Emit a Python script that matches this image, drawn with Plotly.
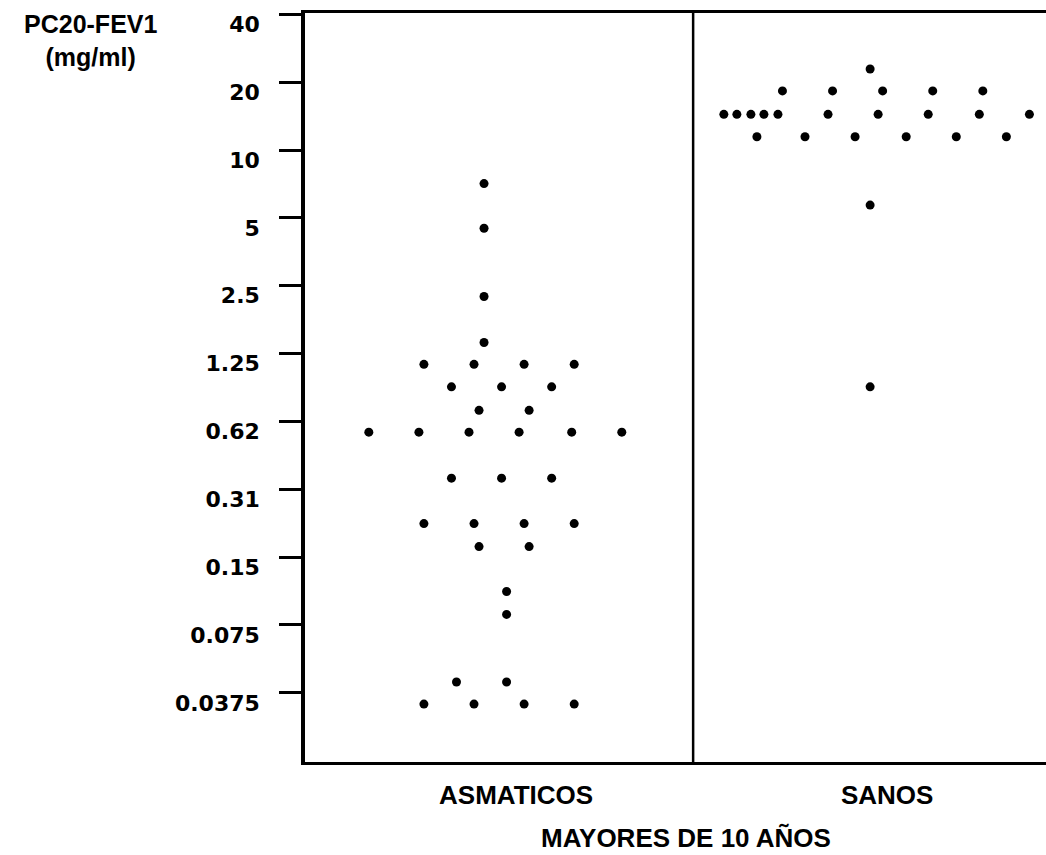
import math
import plotly.graph_objects as go

# ---------------- data ----------------
categories = ["ASMATICOS", "SANOS"]

# PC20-FEV1 (mg/ml)
asmaticos_pc20 = [7.1, 4.5, 2.24, 1.4,
                  1.12, 1.12, 1.12, 1.12,
                  0.89, 0.89, 0.89,
                  0.70, 0.70,
                  0.56, 0.56, 0.56, 0.56, 0.56, 0.56,
                  0.35, 0.35, 0.35,
                  0.22, 0.22, 0.22, 0.22,
                  0.174, 0.174,
                  0.11, 0.087,
                  0.0436, 0.0436,
                  0.0348, 0.0348, 0.0348, 0.0348]
# horizontal spread of the dots (in dot-widths from the group centre)
asmaticos_spread = [-0.3, -0.3, -0.3, -0.3,
                    -1.5, -0.5, 0.5, 1.5,
                    -0.95, 0.05, 1.05,
                    -0.4, 0.6,
                    -2.6, -1.6, -0.6, 0.4, 1.45, 2.45,
                    -0.95, 0.05, 1.05,
                    -1.5, -0.5, 0.5, 1.5,
                    -0.4, 0.6,
                    0.15, 0.15,
                    -0.85, 0.15,
                    -1.5, -0.5, 0.5, 1.5]

sanos_pc20 = [22.9,
              18.3, 18.3, 18.3, 18.3, 18.3,
              14.4, 14.4, 14.4, 14.4, 14.4, 14.4, 14.4, 14.4, 14.4, 14.4,
              11.45, 11.45, 11.45, 11.45, 11.45, 11.45,
              5.7, 0.89]
sanos_spread = [0.0,
                -1.75, -0.75, 0.25, 1.25, 2.25,
                -2.92, -2.66, -2.38, -2.12, -1.84, -0.84, 0.16, 1.16, 2.18, 3.18,
                -2.26, -1.3, -0.3, 0.72, 1.72, 2.72,
                0.0, 0.0]

y_tick_labels = ["40", "20", "10", "5", "2.5", "1.25", "0.62", "0.31",
                 "0.15", "0.075", "0.0375"]
y_title = "PC20-FEV1<br>(mg/ml)"
x_title = "MAYORES DE 10 AÑOS"

# ---------------- layout constants ----------------
DOT_STEP = 0.135            # one dot width in x-axis units
W, H = 1046, 855
ML, MR, MT, MB = 305, 0, 13, 93
X_RANGE = [-0.523, 1.474]
DIVIDER_X = 0.523
top_dose = 40.0
y_tick_vals = [top_dose / 2 ** i for i in range(len(y_tick_labels))]
L2 = math.log10(2)
Y_RANGE = [math.log10(top_dose) - 11.02 * L2, math.log10(top_dose) + 0.02 * L2]

groups = [(asmaticos_pc20, asmaticos_spread), (sanos_pc20, sanos_spread)]

fig = go.Figure()
for gi, (vals, spread) in enumerate(groups):
    fig.add_trace(go.Scatter(
        x=[gi + s * DOT_STEP for s in spread],
        y=vals,
        mode="markers",
        name=categories[gi],
        marker=dict(symbol="circle", size=9, color="black", line=dict(width=0)),
        showlegend=False,
        cliponaxis=False,
    ))

tick_font = dict(family="DejaVu Sans", size=22, color="black", weight="bold")
label_font = dict(family="Liberation Sans, Arial", size=26, color="black", weight="bold")

fig.update_layout(
    width=W, height=H,
    margin=dict(l=ML, r=MR, t=MT, b=MB, pad=0),
    paper_bgcolor="white", plot_bgcolor="white",
    xaxis=dict(
        range=X_RANGE, showgrid=False, zeroline=False,
        showline=True, linecolor="black", linewidth=3, mirror=True,
        tickvals=[0, 1], ticktext=categories, ticks="",
        tickfont=label_font, ticklabelstandoff=8, ticklabelshift=17,
        fixedrange=True,
    ),
    yaxis=dict(
        type="log", range=Y_RANGE, showgrid=False, zeroline=False,
        showline=True, linecolor="black", linewidth=3.5, mirror=False,
        tickvals=y_tick_vals, ticktext=y_tick_labels,
        ticks="outside", ticklen=22, tickwidth=3, tickcolor="black",
        tickfont=tick_font, ticklabelstandoff=15, ticklabelshift=10,
        fixedrange=True,
    ),
    shapes=[dict(type="line", xref="x", yref="paper", x0=DIVIDER_X, x1=DIVIDER_X,
                 y0=0, y1=1, line=dict(color="black", width=2.5))],
    annotations=[
        dict(text=y_title, xref="paper", yref="paper",
             x=(90 - ML) / (W - ML - MR), y=1 + (MT - 8) / (H - MT - MB),
             xanchor="center", yanchor="top", showarrow=False, align="center",
             font=dict(family="Liberation Sans, Arial", size=25,
                       color="black", weight="bold")),
        dict(text=x_title, xref="paper", yref="paper",
             x=(686 - ML) / (W - ML - MR), y=-(838 - (H - MB)) / (H - MT - MB),
             xanchor="center", yanchor="middle", showarrow=False,
             font=label_font),
    ],
)

fig.write_html("out.html")
